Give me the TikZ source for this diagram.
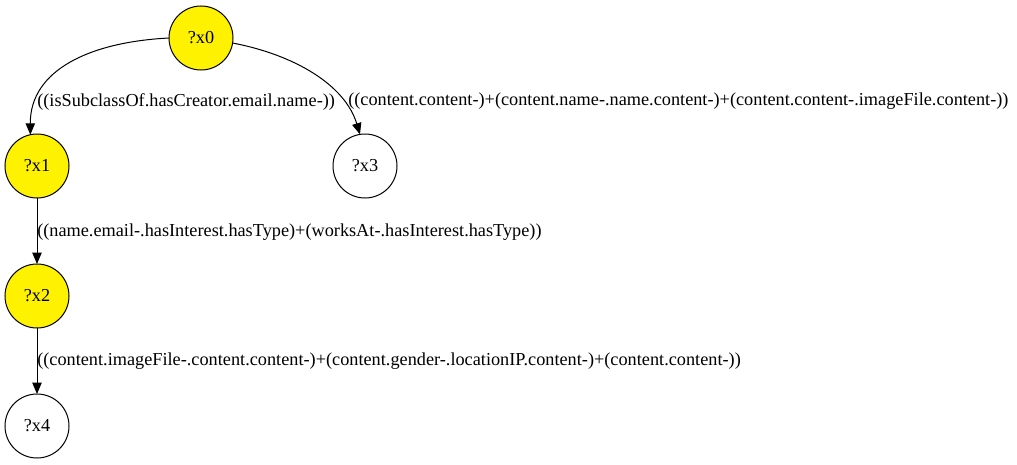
\documentclass[tikz,border=0pt]{standalone}
\usepackage{fontspec}
\setmainfont{Liberation Serif}
\usetikzlibrary{arrows.meta}
\begin{document}
\begin{tikzpicture}[x=0.75pt,y=-0.75pt,
  vnode/.style={circle,draw=black,line width=0.75pt,minimum size=48pt,inner sep=0pt,outer sep=0pt,font=\fontsize{13.7pt}{16pt}\selectfont},
  hl/.style={fill=yellow},
  plain/.style={fill=white},
  edge/.style={line width=0.75pt,-{Triangle[length=8.5pt,width=7pt]}},
  elabel/.style={anchor=west,inner sep=0pt,font=\fontsize{13.7pt}{16pt}\selectfont}]
\useasboundingbox (0,0) rectangle (1017,464);
\node[vnode,hl] (x0) at (201,38) {?x0};
\node[vnode,hl] (x1) at (37,166) {?x1};
\node[vnode,plain] (x3) at (365,166) {?x3};
\node[vnode,hl] (x2) at (37,296) {?x2};
\node[vnode,plain] (x4) at (37,426) {?x4};
\draw[edge] (x0.180) .. controls (90,42) and (30,70) .. (x1.102);
\draw[edge] (x0.-9) .. controls (295,55) and (345,85) .. (x3.99);
\draw[edge] (x1) -- (x2);
\draw[edge] (x2) -- (x4);
\node[elabel] (l1) at (37,102) {((isSubclassOf.hasCreator.email.name-))};
\node[elabel] (l2) at (348,101) {((content.content-)+(content.name-.name.content-)+(content.content-.imageFile.content-))};
\node[elabel] (l3) at (37,232) {((name.email-.hasInterest.hasType)+(worksAt-.hasInterest.hasType))};
\node[elabel] (l4) at (37,361) {((content.imageFile-.content.content-)+(content.gender-.locationIP.content-)+(content.content-))};
\end{tikzpicture}
\end{document}
